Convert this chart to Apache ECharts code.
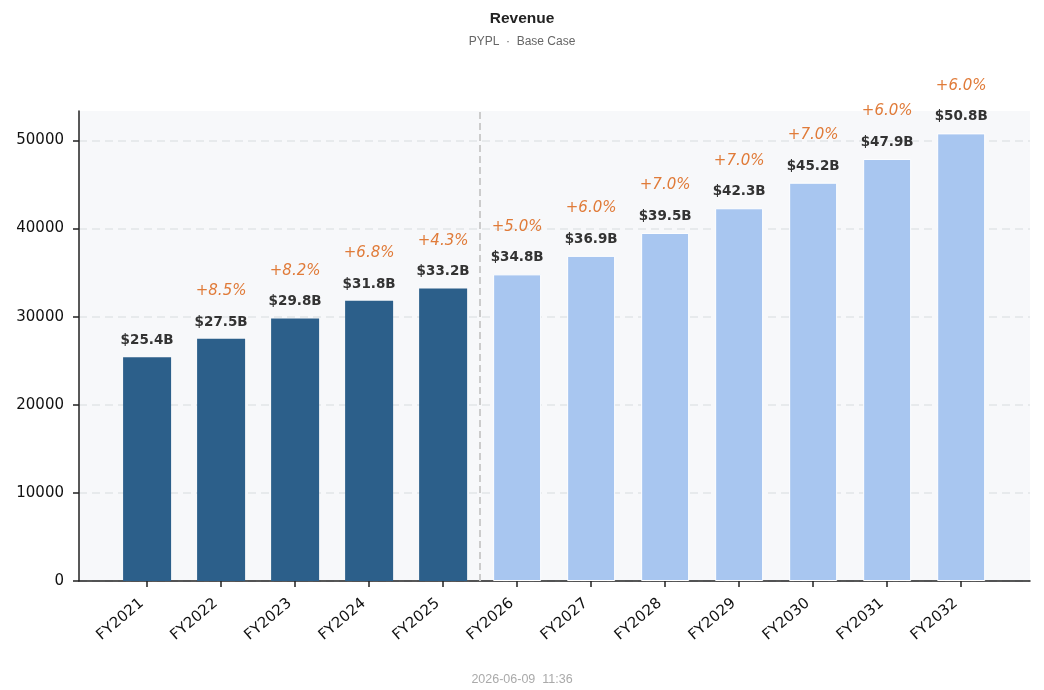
<!DOCTYPE html>
<html>
<head>
<meta charset="utf-8">
<script src="https://cdn.jsdelivr.net/npm/echarts@6/dist/echarts.min.js"></script>
<style>
  html, body { margin: 0; padding: 0; background: #fff; }
  #chart { width: 1044px; height: 690px; }
</style>
</head>
<body>
<div id="chart"></div>
<script>
// 数据
const categories = ['FY2021', 'FY2022', 'FY2023', 'FY2024', 'FY2025', 'FY2026',
  'FY2027', 'FY2028', 'FY2029', 'FY2030', 'FY2031', 'FY2032']
const revenue = [25400, 27500, 29800, 31800, 33200, 34800, 36900, 39500, 42300, 45200, 47900, 50800]
const growth = ['', '+8.5%', '+8.2%', '+6.8%', '+4.3%', '+5.0%', '+6.0%', '+7.0%', '+7.0%', '+7.0%', '+6.0%', '+6.0%']
const firstForecast = 5
const yTicks = [0, 10000, 20000, 30000, 40000, 50000]

const HIST = '#2c5f8a'
const FCST = '#a8c6f0'

const barData = revenue.map((v, i) => ({
  value: [i, v],
  itemStyle: i < firstForecast
    ? { color: HIST }
    : { color: FCST, borderColor: '#ffffff', borderWidth: 1 }
}))

const dom = echarts.init(document.getElementById('chart'))
dom.setOption({
  animation: false,
  backgroundColor: '#ffffff',
  title: [
    {
      text: 'Revenue',
      subtext: 'PYPL  ·  Base Case',
      left: 'center',
      top: 6,
      itemGap: 9,
      textStyle: { fontFamily: 'Liberation Sans', fontSize: 15.5, fontWeight: 'bold', color: '#222' },
      subtextStyle: { fontFamily: 'Liberation Sans', fontSize: 12, color: '#666' }
    },
    {
      text: '2026-06-09  11:36',
      left: 'center',
      top: 668,
      textStyle: { fontFamily: 'Liberation Sans', fontSize: 12.5, fontWeight: 'normal', color: '#aaa' }
    }
  ],
  grid: {
    left: 79, right: 14, top: 111, bottom: 109,
    show: true, backgroundColor: '#f7f8fa', borderWidth: 0
  },
  xAxis: {
    type: 'value',
    min: -0.92,
    max: 11.93,
    splitLine: { show: false },
    axisLine: { show: true, onZero: false, lineStyle: { color: '#222', width: 1.5 } },
    axisTick: {
      show: true, length: 6, lineStyle: { color: '#222', width: 1.5 },
      customValues: categories.map((c, i) => i)
    },
    axisLabel: {
      customValues: categories.map((c, i) => i),
      formatter: v => '{a|' + (categories[Math.round(v)] || '') + '}',
      rotate: 40,
      margin: 16,
      rich: {
        a: { fontFamily: 'DejaVu Sans', fontSize: 15, color: '#111', padding: [0, 7, 0, 0] }
      }
    }
  },
  yAxis: {
    type: 'value',
    min: 0,
    max: 53340,
    interval: 10000,
    axisLine: { show: true, onZero: false, lineStyle: { color: '#222', width: 1.5 } },
    axisTick: { show: true, length: 6, lineStyle: { color: '#222', width: 1.5 }, customValues: yTicks },
    axisLabel: {
      customValues: yTicks,
      formatter: v => String(v),
      fontFamily: 'DejaVu Sans',
      fontSize: 15,
      color: '#111',
      margin: 15
    },
    splitLine: { show: true, lineStyle: { color: '#e2e5e8', type: [8, 5], width: 1.5 } }
  },
  series: [
    {
      type: 'bar',
      data: barData,
      barWidth: 48,
      label: {
        show: true,
        position: 'top',
        distance: 1,
        formatter: p => {
          const i = p.value[0]
          const g = growth[i] ? '{g|' + growth[i] + '}\n' : ''
          return g + '{v|$' + (revenue[i] / 1000).toFixed(1) + 'B}'
        },
        rich: {
          g: { fontFamily: 'DejaVu Sans', fontStyle: 'italic', fontSize: 15, color: '#e07b39', lineHeight: 31 },
          v: { fontFamily: 'DejaVu Sans', fontWeight: 'bold', fontSize: 13.5, color: '#333', lineHeight: 31 }
        }
      },
      markLine: {
        silent: true,
        symbol: 'none',
        label: { show: false },
        lineStyle: { color: '#cccccc', type: [7, 4], width: 2 },
        data: [{ xAxis: firstForecast - 0.5 }]
      }
    }
  ]
})
</script>
</body>
</html>
